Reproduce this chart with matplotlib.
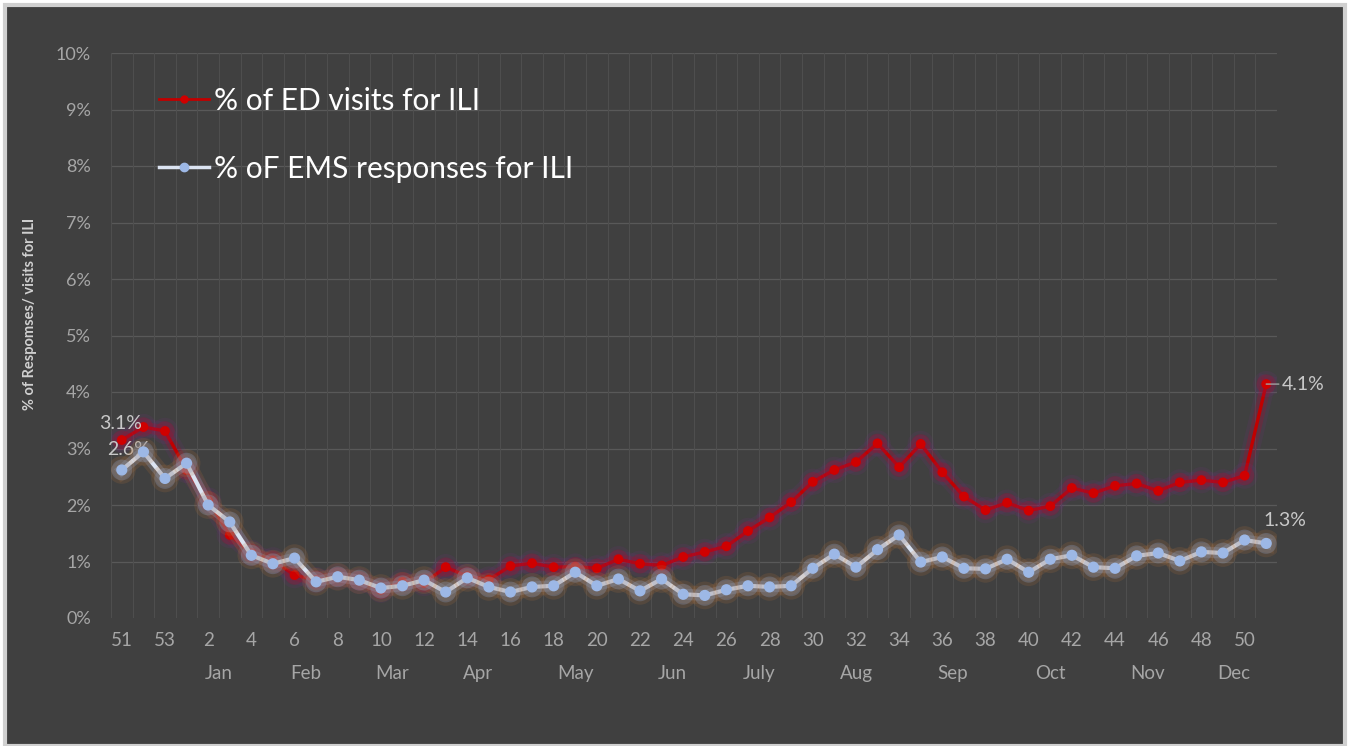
import matplotlib
matplotlib.use('Agg')
from matplotlib import pyplot as plt
from matplotlib.patches import Rectangle
import matplotlib.patheffects as pe
import matplotlib.transforms as mtransforms
import numpy as np

# categories: week numbers (dec of previous year, then 1..51)
weeks = [51, 52, 53, 1, 2, 3, 4, 5, 6, 7, 8, 9, 10, 11, 12, 13, 14, 15, 16, 17,
         18, 19, 20, 21, 22, 23, 24, 25, 26, 27, 28, 29, 30, 31, 32, 33, 34, 35,
         36, 37, 38, 39, 40, 41, 42, 43, 44, 45, 46, 47, 48, 49, 50, 51]
month_names = ['Jan', 'Feb', 'Mar', 'Apr', 'May', 'Jun', 'July', 'Aug', 'Sep', 'Oct', 'Nov', 'Dec']
month_weeks = [4, 4, 4, 4, 5, 4, 4, 5, 4, 5, 4, 4]
lead_weeks = 3  # weeks 51-53 with no month label

ed_pct = [3.15, 3.38, 3.31, 2.62, 2.08, 1.47, 1.15, 1.02, 0.76, 0.67, 0.73, 0.66,
          0.50, 0.64, 0.62, 0.90, 0.74, 0.68, 0.92, 0.97, 0.90, 0.91, 0.88, 1.04,
          0.96, 0.93, 1.08, 1.17, 1.27, 1.54, 1.78, 2.05, 2.41, 2.62, 2.76, 3.09,
          2.67, 3.08, 2.58, 2.15, 1.91, 2.04, 1.90, 1.98, 2.30, 2.21, 2.34, 2.38,
          2.25, 2.40, 2.44, 2.40, 2.52, 4.14]
ems_pct = [2.62, 2.94, 2.47, 2.74, 2.00, 1.70, 1.11, 0.96, 1.06, 0.64, 0.73, 0.67,
           0.53, 0.57, 0.67, 0.46, 0.71, 0.55, 0.46, 0.55, 0.57, 0.81, 0.57, 0.69,
           0.48, 0.69, 0.42, 0.40, 0.50, 0.57, 0.55, 0.57, 0.88, 1.13, 0.90, 1.21,
           1.47, 0.99, 1.08, 0.88, 0.87, 1.04, 0.81, 1.04, 1.11, 0.90, 0.88, 1.10,
           1.15, 1.01, 1.17, 1.15, 1.38, 1.32]

ed = np.array(ed_pct) / 100
ems = np.array(ems_pct) / 100
x = np.arange(len(weeks))

BG = '#404040'
TXT = '#a6a6a6'
FONT = 'Lato'

fig = plt.figure(figsize=(13.48, 7.46), dpi=100, facecolor='white')
# dark chart panel with light frame (behind the axes)
fig.patches.append(Rectangle((5 / 1348, 0), 1340 / 1348, 741 / 746, transform=fig.transFigure,
                             facecolor=BG, edgecolor='#d0d0d0', linewidth=3, zorder=-10))

ax = fig.add_axes([111 / 1348, 1 - 618 / 746, 1166 / 1348, 565 / 746])
ax.set_zorder(2)
ax.set_facecolor('none')
for s in ax.spines.values():
    s.set_visible(False)

ax.set_xlim(-0.5, len(weeks) - 0.5)
ax.set_ylim(0, 0.10)

# grid
for yv in np.arange(0.01, 0.101, 0.01):
    ax.axhline(yv, color='#595959', lw=0.9, zorder=1)
for xv in np.arange(-0.5, len(weeks), 1.0):
    ax.axvline(xv, color='#4e4e4e', lw=0.8, zorder=1)

glow_red = [pe.Stroke(linewidth=13, foreground='#7a2a8a', alpha=0.12),
            pe.Stroke(linewidth=8, foreground='#a01030', alpha=0.3), pe.Normal()]
glow_blue = [pe.Stroke(linewidth=13, foreground='#b0703a', alpha=0.18),
             pe.Stroke(linewidth=8, foreground='#8fa0c0', alpha=0.3), pe.Normal()]

ax.plot(x, ed, color='#c00000', lw=2.4, marker='o', ms=6, mfc='#d00000', mec='#d00000',
        path_effects=glow_red, zorder=3)
ax.plot(x, ems, color='#dce4f2', lw=3.0, marker='o', ms=7, mfc='#9db8e6', mec='#9db8e6',
        path_effects=glow_blue, zorder=4)

# legend handles drawn plain (no glow)
h_ed, = ax.plot([], [], color='#c00000', lw=2, marker='o', ms=5, mfc='#d00000', mec='#d00000',
                label='% of ED visits for ILI')
h_ems, = ax.plot([], [], color='#dce4f2', lw=2.5, marker='o', ms=6, mfc='#9db8e6', mec='#9db8e6',
                 label='% oF EMS responses for ILI')

# y ticks
ax.set_yticks(np.arange(0, 0.101, 0.01))
ax.set_yticklabels(['%d%%' % round(v * 100) for v in np.arange(0, 0.101, 0.01)])
ax.tick_params(axis='y', length=0, pad=14.5, labelsize=13, labelcolor=TXT)

# x ticks: every other week
ax.set_xticks(x[::2])
ax.set_xticklabels([str(w) for w in weeks[::2]])
ax.tick_params(axis='x', length=0, pad=10, labelsize=13.5, labelcolor=TXT)
for lab in ax.get_xticklabels() + ax.get_yticklabels():
    lab.set_family(FONT)

# month labels centred under their week groups
trans = mtransforms.blended_transform_factory(ax.transData, ax.transAxes)
start = lead_weeks
for name, n in zip(month_names, month_weeks):
    centre = start + (n - 1) / 2
    ax.text(centre, -0.098, name, transform=trans, ha='center', va='center',
            fontsize=13.5, color=TXT, family=FONT)
    start += n

# data labels
lab_col = '#c8c8c8'
ax.annotate('%.1f%%' % (ed[0] * 100), (x[0], ed[0]), xytext=(-1, 12), textcoords='offset points',
            ha='center', va='center', fontsize=14, color=lab_col, family=FONT)
ax.annotate('%.1f%%' % (ems[0] * 100), (x[0], ems[0]), xytext=(5, 15), textcoords='offset points',
            ha='center', va='center', fontsize=14, color=lab_col, family=FONT)
ax.annotate('%.1f%%' % (ed[-1] * 100), (x[-1], ed[-1]), xytext=(26.5, 0), textcoords='offset points',
            ha='center', va='center', fontsize=14, color=lab_col, family=FONT,
            arrowprops=dict(arrowstyle='-', color='#a0a0a0', lw=1, shrinkA=12, shrinkB=0), annotation_clip=False)
ax.annotate('%.1f%%' % (ems[-1] * 100), (x[-1], ems[-1]), xytext=(13.5, 16.5), textcoords='offset points',
            ha='center', va='center', fontsize=14, color=lab_col, family=FONT,
            arrowprops=dict(arrowstyle='-', color='#a0a0a0', lw=1, shrinkA=10, shrinkB=0), annotation_clip=False)

leg = ax.legend(handles=[h_ed, h_ems], loc='upper left', bbox_to_anchor=(0.018, 0.988), frameon=False,
                handlelength=1.67, handletextpad=0.17, labelspacing=1.34,
                prop={'family': FONT, 'size': 21.5})
for t in leg.get_texts():
    t.set_color('white')

fig.text(30 / 1348, 1 - 314 / 746, '% of Respomses/ visits for ILI', rotation=90, ha='center', va='center',
         fontsize=10.5, fontweight='bold', color='#d0d0d0', family=FONT)

fig.savefig('out.png', dpi=100, facecolor=fig.get_facecolor())
